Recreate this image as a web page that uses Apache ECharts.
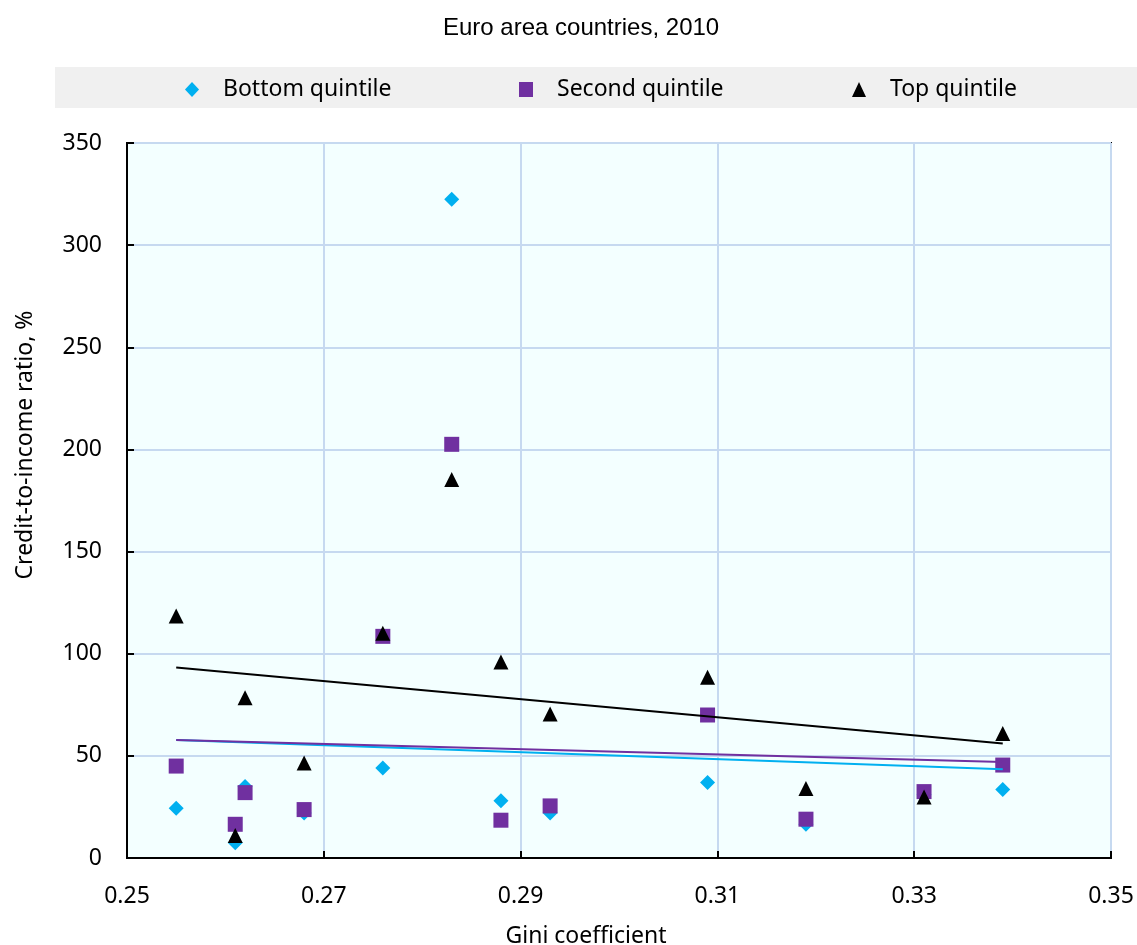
<!DOCTYPE html>
<html>
<head>
<meta charset="utf-8">
<script src="https://cdn.jsdelivr.net/npm/echarts@6/dist/echarts.min.js"></script>
<style>
html,body{margin:0;padding:0;background:#fff;}
#chart{width:1137px;height:945px;}
</style>
</head>
<body>
<div id="chart"></div>
<script>
// Data
var titleText = 'Euro area countries, 2010';
var xAxisName = 'Gini coefficient';
var yAxisName = 'Credit-to-income ratio, %';
var seriesNames = ['Bottom quintile', 'Second quintile', 'Top quintile'];
var gini = [0.255, 0.261, 0.262, 0.268, 0.276, 0.283, 0.288, 0.293, 0.309, 0.319, 0.331, 0.339];
var bottomQuintile = [24.4, 7.5, 35, 22, 44, 322.5, 28, 22, 37, 16.5, 31, 33.5];
var secondQuintile = [45, 16.5, 32, 23.7, 108.5, 202.5, 18.5, 25.5, 70, 19, 32.5, 45.5];
var topQuintile = [118.5, 11, 78.5, 46.5, 110, 185.3, 96, 70.5, 88.5, 34, 29.8, 61];
// Linear trend lines: [x, y] endpoints
var bottomTrend = [[0.255, 57.8], [0.339, 43.5]];
var secondTrend = [[0.255, 57.8], [0.339, 47]];
var topTrend = [[0.255, 93.2], [0.339, 56]];
var xTicks = {min: 0.25, max: 0.35, interval: 0.02};
var yTicks = {min: 0, max: 350, interval: 50};

var colors = ['#00B0F0', '#7030A0', '#000000'];
var symbols = ['diamond', 'rect', 'triangle'];

function pairs(xs, ys) { return xs.map(function (x, i) { return [x, ys[i]]; }); }

var font = "'Noto Sans', sans-serif";
var chart = echarts.init(document.getElementById('chart'));

var legendLefts = [184, 518, 851];
var legends = seriesNames.map(function (n, i) {
  return {
    data: [{name: n, icon: symbols[i], itemStyle: {opacity: 1}}],
    left: legendLefts[i] - 4, top: 73,
    itemWidth: 14, itemHeight: 15,
    itemGap: 0,
    textStyle: {fontFamily: font, fontSize: 23, color: '#000', padding: [0, 0, 0, 19]},
    selectedMode: false
  };
});

var option = {
  animation: false,
  title: {
    text: titleText, left: 438, top: 11,
    textStyle: {fontFamily: "'Liberation Sans', Arial, sans-serif", fontSize: 24, fontWeight: 'normal', color: '#000'}
  },
  graphic: [
    {type: 'rect', left: 55, top: 67, shape: {width: 1082, height: 41}, style: {fill: '#F0F0F0'}, z: -1},
    {type: 'text', x: 586, y: 936, style: {text: xAxisName, font: "23px 'Noto Sans', sans-serif", fill: '#000', textAlign: 'center', textVerticalAlign: 'middle'}},
    {type: 'text', x: 25, y: 445, rotation: Math.PI / 2, style: {text: yAxisName, font: "23px 'Noto Sans', sans-serif", fill: '#000', textAlign: 'center', textVerticalAlign: 'middle'}}
  ],
  legend: legends,
  grid: {
    left: 127, right: 26, top: 143, bottom: 87,
    show: true, backgroundColor: '#F3FFFF', borderColor: '#000', borderWidth: 2
  },
  xAxis: {
    type: 'value', min: xTicks.min, max: xTicks.max, interval: xTicks.interval,
    axisLine: {show: true, onZero: false, lineStyle: {color: '#000', width: 2}},
    axisTick: {show: true, inside: true, length: 7, lineStyle: {color: '#000', width: 2}},
    axisLabel: {fontFamily: font, fontSize: 23, color: '#000', margin: 27,
      formatter: function (v) { return v.toFixed(2); }},
    splitLine: {show: true, lineStyle: {color: '#C6D9F0', width: 2}}
  },
  yAxis: {
    type: 'value', min: yTicks.min, max: yTicks.max, interval: yTicks.interval,
    axisLine: {show: true, lineStyle: {color: '#000', width: 2}},
    axisTick: {show: true, inside: true, length: 7, lineStyle: {color: '#000', width: 2}},
    axisLabel: {fontFamily: font, fontSize: 23, color: '#000', margin: 25},
    splitLine: {show: true, lineStyle: {color: '#C6D9F0', width: 2}}
  },
  series: [
    {name: seriesNames[0], type: 'scatter', symbol: 'diamond', symbolSize: 15, itemStyle: {color: colors[0], opacity: 1}, data: pairs(gini, bottomQuintile), z: 2},
    {name: seriesNames[1], type: 'scatter', symbol: 'rect', symbolSize: 15, itemStyle: {color: colors[1], opacity: 1}, data: pairs(gini, secondQuintile), z: 3},
    {name: seriesNames[2], type: 'scatter', symbol: 'triangle', symbolSize: 15, itemStyle: {color: colors[2], opacity: 1}, data: pairs(gini, topQuintile), z: 4},
    {name: 'bt', type: 'line', symbol: 'none', data: bottomTrend, lineStyle: {color: colors[0], width: 2}, z: 5, silent: true},
    {name: 'st', type: 'line', symbol: 'none', data: secondTrend, lineStyle: {color: colors[1], width: 2}, z: 6, silent: true},
    {name: 'tt', type: 'line', symbol: 'none', data: topTrend, lineStyle: {color: colors[2], width: 2}, z: 7, silent: true}
  ]
};
chart.setOption(option);
</script>
</body>
</html>
